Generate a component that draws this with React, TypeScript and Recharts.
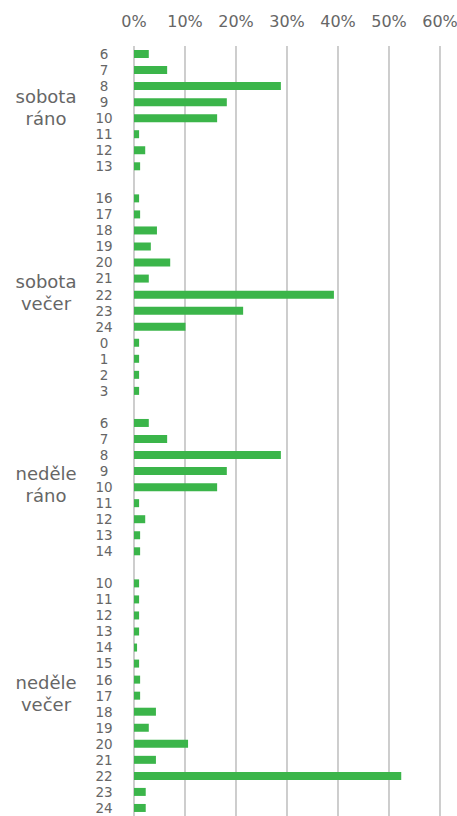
import React from 'react';
import { BarChart, Bar, XAxis, YAxis, CartesianGrid } from 'recharts';

const groupLabels: string[][] = [
  ['sobota', 'ráno'],
  ['sobota', 'večer'],
  ['neděle', 'ráno'],
  ['neděle', 'večer'],
];

const satMorningHours = ['6', '7', '8', '9', '10', '11', '12', '13'];
const satMorningValues = [2.9, 6.5, 28.8, 18.2, 16.3, 1.0, 2.2, 1.2];

const satEveningHours = ['16', '17', '18', '19', '20', '21', '22', '23', '24', '0', '1', '2', '3'];
const satEveningValues = [1.0, 1.2, 4.5, 3.3, 7.1, 2.9, 39.2, 21.4, 10.1, 1.0, 1.0, 1.0, 1.0];

const sunMorningHours = ['6', '7', '8', '9', '10', '11', '12', '13', '14'];
const sunMorningValues = [2.9, 6.5, 28.8, 18.2, 16.3, 1.0, 2.2, 1.2, 1.2];

const sunEveningHours = ['10', '11', '12', '13', '14', '15', '16', '17', '18', '19', '20', '21', '22', '23', '24'];
const sunEveningValues = [1.0, 1.0, 1.0, 1.0, 0.6, 1.0, 1.2, 1.2, 4.3, 2.9, 10.6, 4.3, 52.4, 2.3, 2.3];

const xTicks = [0, 10, 20, 30, 40, 50, 60];

const groupHours = [satMorningHours, satEveningHours, sunMorningHours, sunEveningHours];
const groupValues = [satMorningValues, satEveningValues, sunMorningValues, sunEveningValues];

type Row = { id: string; hour: string; value: number | null; group: number; first: boolean; size: number };

const rows: Row[] = [];
groupHours.forEach((hours, g) => {
  if (g > 0) rows.push({ id: `gap${g}`, hour: '', value: null, group: -1, first: false, size: 0 });
  hours.forEach((h, i) => {
    rows.push({ id: `g${g}-${h}`, hour: h, value: groupValues[g][i], group: g, first: i === 0, size: hours.length });
  });
});

const W = 457;
const H = 816;
const TOP = 46;
const LEFT = 134;
const RIGHT = 17;
const BAND = (H - TOP) / rows.length;
const TEXT = '#666666';
const FONT = '"DejaVu Sans", sans-serif';

const HourTick = (props: any) => {
  const { y, payload } = props;
  const row = rows.find((r) => r.id === payload.value);
  if (!row) return null;
  const els: React.ReactNode[] = [];
  if (row.hour) {
    els.push(
      <text key="h" x={104} y={y} dy="0.36em" textAnchor="middle" fontSize={13.5} fill={TEXT} fontFamily={FONT}>
        {row.hour}
      </text>
    );
  }
  if (row.first) {
    const cy = y + ((row.size - 1) / 2) * BAND - 2;
    const lines = groupLabels[row.group];
    lines.forEach((ln, i) => {
      els.push(
        <text
          key={`g${i}`}
          x={46}
          y={cy + (i - (lines.length - 1) / 2) * 22}
          dy="0.35em"
          textAnchor="middle"
          fontSize={18}
          fill={TEXT}
          fontFamily={FONT}
        >
          {ln}
        </text>
      );
    });
  }
  return <g>{els}</g>;
};

export default function App() {
  return (
    <div style={{ position: 'absolute', left: 0, top: 0, width: W, height: H, background: '#fff' }}>
      <BarChart
        width={W}
        height={H}
        data={rows}
        layout="vertical"
        margin={{ top: 0, right: RIGHT, bottom: 0, left: 0 }}
        barSize={8}
      >
        <CartesianGrid horizontal={false} vertical={true} stroke="#b3b3b3" strokeWidth={1.3} />
        <XAxis
          type="number"
          orientation="top"
          domain={[0, 60]}
          ticks={xTicks}
          tickFormatter={(v: number) => `${v}%`}
          axisLine={false}
          tickLine={false}
          height={TOP}
          tickSize={6}
          tickMargin={13}
          interval={0}
          tick={{ fontSize: 16, fill: TEXT, fontFamily: FONT }}
        />
        <YAxis
          type="category"
          dataKey="id"
          width={LEFT}
          axisLine={false}
          tickLine={false}
          interval={0}
          tick={<HourTick />}
        />
        <Bar dataKey="value" fill="#3bb54a" isAnimationActive={false} />
      </BarChart>
    </div>
  );
}
